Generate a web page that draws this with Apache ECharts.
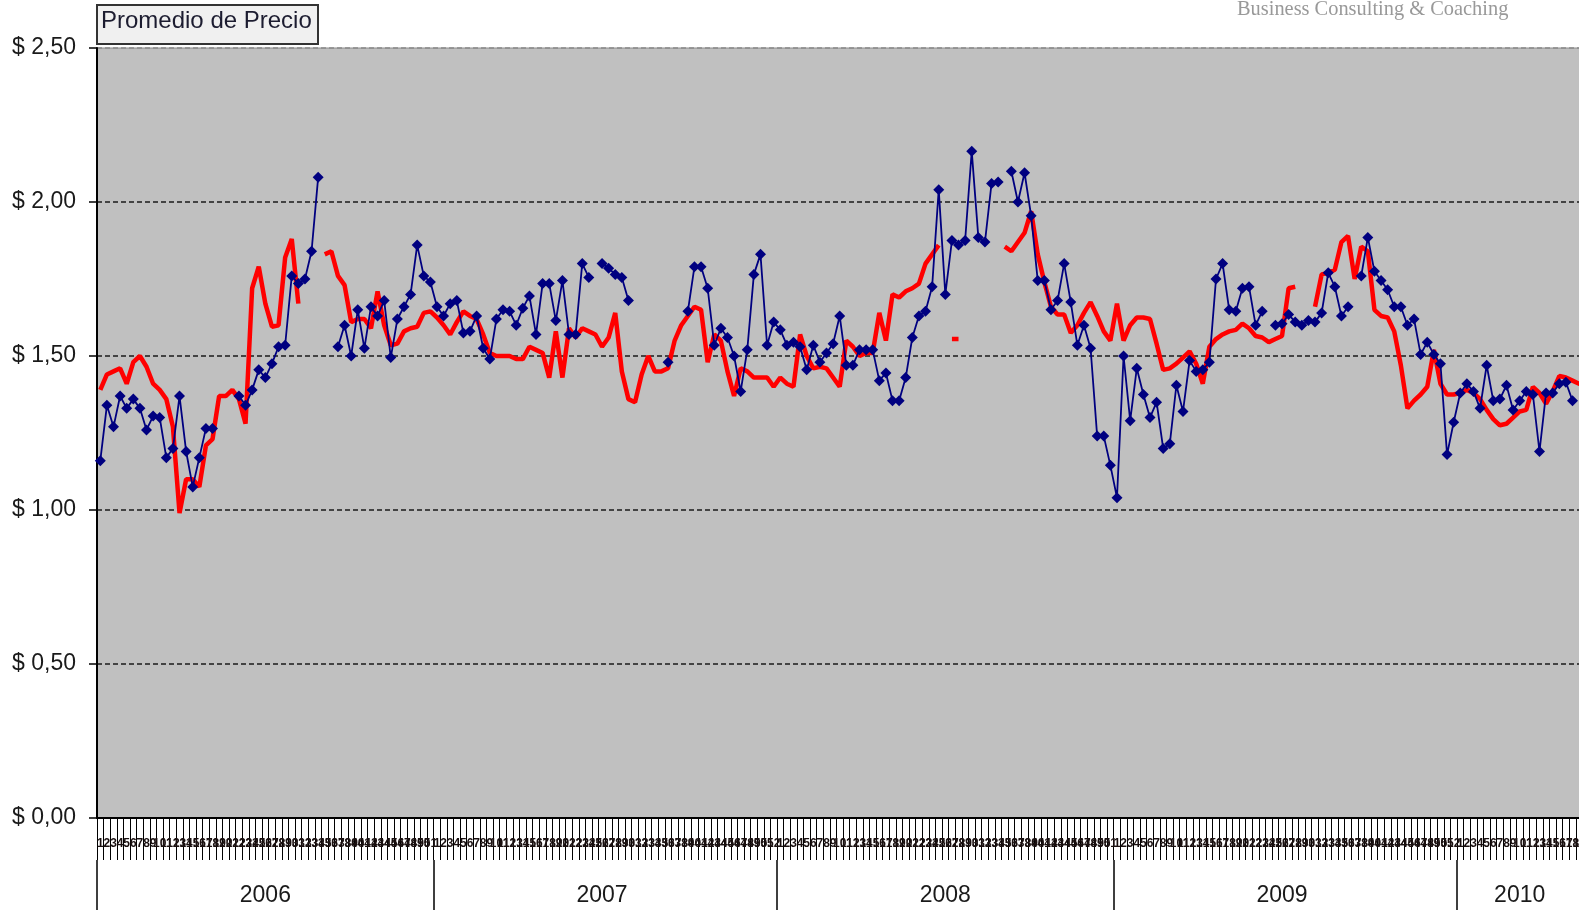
<!DOCTYPE html>
<html>
<head>
<meta charset="utf-8">
<title>Promedio de Precio</title>
<script src="https://cdn.jsdelivr.net/npm/echarts@6/dist/echarts.min.js"></script>
<style>
  html, body { margin: 0; padding: 0; background: #fff; }
  #chart { width: 1579px; height: 910px; }
</style>
</head>
<body>
<div id="chart"></div>
<script>
// weekly slots per year (2010 runs past the right edge)
const years = ['2006', '2007', '2008', '2009', '2010']
const weeksPerYear = [51, 52, 51, 52, 20]
const yearLabelSlot = [25, 76, 128, 179, 215]

// blue line with diamonds, weekly average price
const precio = [
  1.16, 1.34, 1.27, 1.37, 1.33, 1.36, 1.33, 1.26, 1.305, 1.30,
  1.17, 1.20, 1.37, 1.19, 1.075, 1.17, 1.265, 1.265, null, null,
  null, 1.37, 1.34, 1.39, 1.455, 1.43, 1.475, 1.53, 1.535, 1.76,
  1.735, 1.75, 1.84, 2.08, null, null, 1.53, 1.60, 1.50, 1.65,
  1.525, 1.66, 1.63, 1.68, 1.495, 1.62, 1.66, 1.70, 1.86, 1.76,
  1.74, 1.66, 1.63, 1.67, 1.68, 1.575, 1.58, 1.63, 1.525, 1.49,
  1.62, 1.65, 1.645, 1.60, 1.655, 1.695, 1.57, 1.735, 1.735, 1.615,
  1.745, 1.57, 1.57, 1.80, 1.755, null, 1.80, 1.785, 1.765, 1.755,
  1.68, null, null, null, null, null, 1.48, null, null, 1.645,
  1.79, 1.79, 1.72, 1.535, 1.59, 1.56, 1.50, 1.385, 1.52, 1.765,
  1.83, 1.535, 1.61, 1.585, 1.535, 1.545, 1.53, 1.455, 1.535, 1.48,
  1.51, 1.54, 1.63, 1.47, 1.47, 1.52, 1.52, 1.52, 1.42, 1.445,
  1.355, 1.355, 1.43, 1.56, 1.63, 1.645, 1.725, 2.04, 1.70, 1.875,
  1.86, 1.875, 2.165, 1.885, 1.87, 2.06, 2.065, null, 2.10, 2.00,
  2.095, 1.955, 1.745, 1.745, 1.65, 1.68, 1.80, 1.675, 1.535, 1.60,
  1.525, 1.24, 1.24, 1.145, 1.04, 1.50, 1.29, 1.46, 1.375, 1.30,
  1.35, 1.20, 1.215, 1.405, 1.32, 1.485, 1.45, 1.455, 1.48, 1.75,
  1.80, 1.65, 1.645, 1.72, 1.725, 1.60, 1.645, null, 1.60, 1.605,
  1.635, 1.61, 1.60, 1.615, 1.61, 1.64, 1.77, 1.725, 1.63, 1.66,
  null, 1.76, 1.885, 1.775, 1.745, 1.715, 1.66, 1.66, 1.60, 1.62,
  1.505, 1.545, 1.505, 1.475, 1.18, 1.285, 1.38, 1.41, 1.385, 1.33,
  1.47, 1.355, 1.36, 1.405, 1.325, 1.355, 1.385, 1.375, 1.19, 1.38,
  1.38, 1.41, 1.415, 1.355, null, null
]

// thick red line
const referencia = [
  1.39, 1.44, 1.45, 1.46, 1.41, 1.48, 1.50, 1.465, 1.41, 1.39,
  1.36, 1.27, 0.99, 1.10, 1.10, 1.075, 1.21, 1.23, 1.37, 1.37,
  1.39, 1.36, 1.28, 1.72, 1.79, 1.67, 1.595, 1.60, 1.82, 1.88,
  1.67, null, null, null, 1.83, 1.84, 1.76, 1.73, 1.61, 1.62,
  1.62, 1.59, 1.71, 1.60, 1.535, 1.54, 1.58, 1.59, 1.595, 1.64,
  1.645, 1.625, 1.60, 1.57, 1.61, 1.645, 1.63, 1.62, 1.57, 1.51,
  1.50, 1.50, 1.50, 1.49, 1.49, 1.53, 1.52, 1.51, 1.43, 1.58,
  1.43, 1.59, 1.56, 1.59, 1.58, 1.57, 1.53, 1.56, 1.64, 1.45,
  1.36, 1.35, 1.44, 1.50, 1.45, 1.45, 1.46, 1.55, 1.60, 1.63,
  1.66, 1.65, 1.48, 1.57, 1.55, 1.45, 1.37, 1.46, 1.45, 1.43,
  1.43, 1.43, 1.40, 1.43, 1.41, 1.40, 1.57, 1.50, 1.46, 1.465,
  1.46, 1.43, 1.40, 1.55, 1.53, 1.50, 1.51, 1.51, 1.64, 1.55,
  1.70, 1.69, 1.71, 1.72, 1.735, 1.80, 1.83, 1.86, null, 1.555,
  1.555, null, null, null, null, null, null, 1.855, 1.84, 1.87,
  1.90, 1.97, 1.83, 1.74, 1.66, 1.635, 1.635, 1.575, 1.60, 1.64,
  1.675, 1.63, 1.58, 1.55, 1.67, 1.55, 1.60, 1.625, 1.625, 1.62,
  1.54, 1.455, 1.46, 1.475, 1.495, 1.515, 1.475, 1.41, 1.53, 1.555,
  1.57, 1.58, 1.585, 1.605, 1.59, 1.565, 1.56, 1.545, 1.555, 1.565,
  1.72, 1.725, null, null, 1.66, 1.765, 1.77, 1.78, 1.87, 1.89,
  1.75, 1.855, 1.84, 1.65, 1.63, 1.625, 1.58, 1.47, 1.33, 1.355,
  1.375, 1.40, 1.52, 1.41, 1.375, 1.375, 1.38, 1.39, 1.38, 1.36,
  1.325, 1.295, 1.275, 1.28, 1.30, 1.32, 1.325, 1.40, 1.38, 1.345,
  1.385, 1.435, 1.43, 1.42, 1.41, 1.41
]

const yMin = 0
const yMax = 2.5
const yStep = 0.5

// build slot categories from the year table
const slotKeys = []
const slotYear = []
const yearStart = []
years.forEach((y, k) => {
  yearStart.push(slotKeys.length)
  for (let w = 1; w <= weeksPerYear[k]; w++) {
    slotKeys.push(y + '-' + w)
    slotYear.push(y)
  }
})

const fontFamily = '"Liberation Sans", Arial, sans-serif'
const chart = echarts.init(document.getElementById('chart'))

// dashed black grid lines, the top one matches the grey plot border
const gridColors = ['#1a1a1a', '#1a1a1a', '#1a1a1a', '#1a1a1a', '#1a1a1a', '#8a8a8a']

const options = {
  animation: false,
  grid: {
    left: 97,
    width: 1492,
    top: 48,
    bottom: 92,
    outerBoundsMode: 'none',
    containLabel: false,
    show: true,
    backgroundColor: '#c0c0c0',
    borderColor: '#8a8a8a',
    borderWidth: 1
  },
  graphic: [
    {
      type: 'rect',
      left: 96,
      top: 4,
      shape: { width: 221, height: 39 },
      style: { fill: '#f0f0f0', stroke: '#333', lineWidth: 2 }
    },
    {
      type: 'text',
      left: 101,
      top: 9,
      style: { text: 'Promedio de Precio', fontSize: 24, fontFamily: fontFamily, fill: '#1c1c30' }
    },
    {
      type: 'text',
      left: 1237,
      top: 0,
      style: {
        text: 'Business Consulting & Coaching',
        fontSize: 20.4,
        fontFamily: '"Liberation Serif", "DejaVu Serif", serif',
        fill: '#999'
      }
    }
  ],
  xAxis: [
    {
      type: 'category',
      data: slotKeys,
      boundaryGap: true,
      axisLine: { show: true, lineStyle: { color: '#000', width: 2 } },
      axisTick: { show: true, interval: 0, length: 42, lineStyle: { color: '#000', width: 1 } },
      axisLabel: {
        interval: 0,
        margin: 20,
        fontSize: 12,
        fontWeight: 'bold',
        fontFamily: fontFamily,
        color: '#1a1010',
        formatter: (v) => v.split('-')[1]
      },
      splitLine: { show: false }
    },
    {
      type: 'category',
      data: slotYear,
      position: 'bottom',
      offset: 42,
      boundaryGap: true,
      axisLine: { show: false },
      axisTick: {
        show: true,
        length: 52,
        interval: (i) => yearStart.includes(i),
        lineStyle: { color: '#000', width: 1.5 }
      },
      axisLabel: {
        interval: (i) => yearLabelSlot.includes(i),
        margin: 24,
        fontSize: 23,
        fontFamily: fontFamily,
        color: '#1a1a1a'
      },
      splitLine: { show: false }
    }
  ],
  yAxis: {
    type: 'value',
    min: yMin,
    max: yMax,
    interval: yStep,
    axisLine: { show: true, lineStyle: { color: '#000', width: 2 } },
    axisTick: { show: true, length: 8, lineStyle: { color: '#000', width: 1.5 } },
    axisLabel: {
      margin: 21,
      fontSize: 23,
      fontFamily: fontFamily,
      color: '#1a1a1a',
      formatter: (v) => '$ ' + v.toFixed(2).replace('.', ',')
    },
    splitLine: {
      show: true,
      lineStyle: { color: gridColors, width: 1.5, type: [5, 3] }
    }
  },
  series: [
    {
      name: 'Referencia',
      type: 'line',
      xAxisIndex: 0,
      data: referencia,
      showSymbol: false,
      symbol: 'none',
      connectNulls: false,
      lineStyle: { color: '#ff0000', width: 4.5 },
      itemStyle: { color: '#ff0000' },
      z: 2
    },
    {
      name: 'Promedio de Precio',
      type: 'line',
      xAxisIndex: 0,
      data: precio,
      symbol: 'diamond',
      symbolSize: 11,
      showAllSymbol: true,
      connectNulls: false,
      lineStyle: { color: '#000080', width: 1.8 },
      itemStyle: { color: '#000080' },
      z: 3
    }
  ]
}

chart.setOption(options)
</script>
</body>
</html>
